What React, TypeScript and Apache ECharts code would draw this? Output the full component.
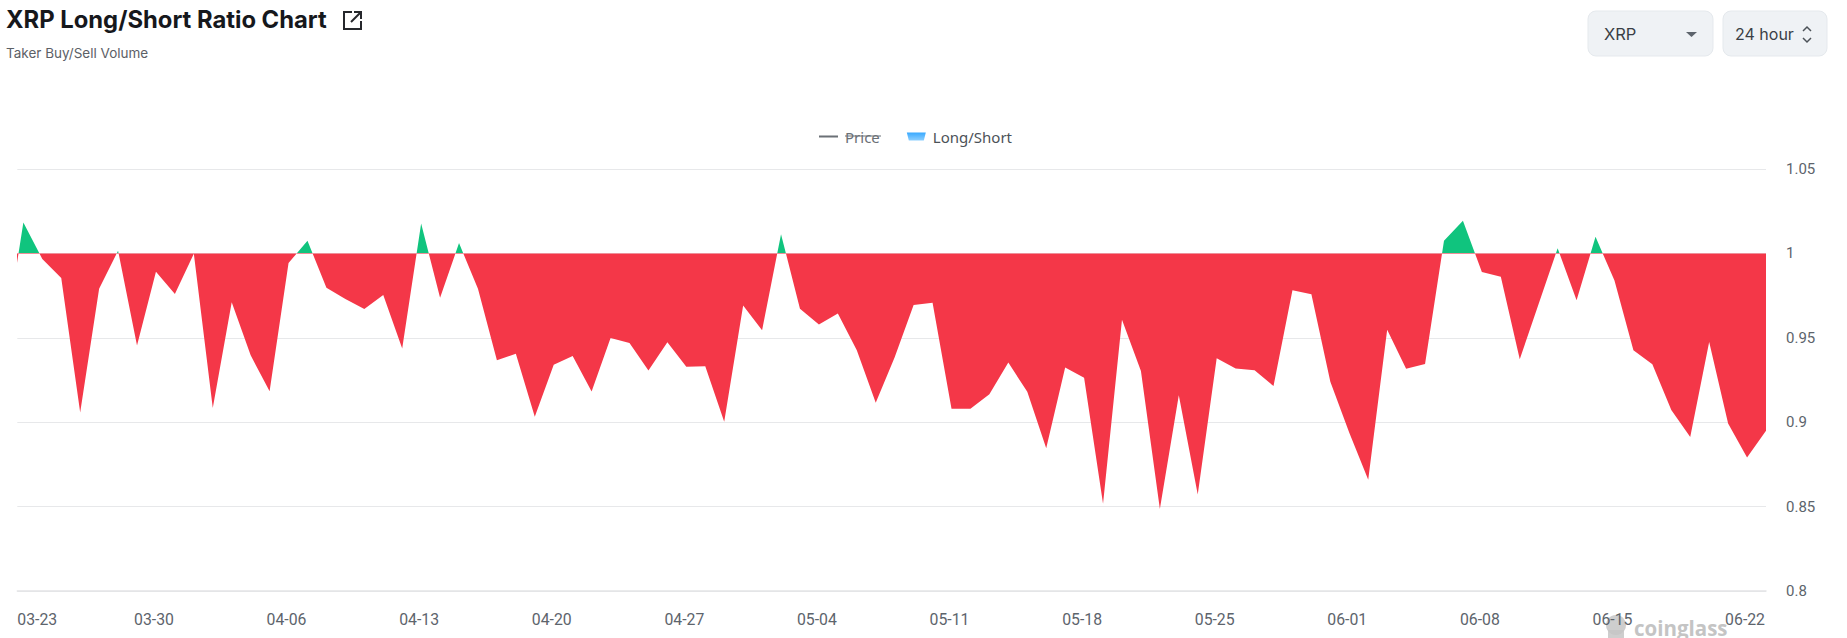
import React, { useEffect, useRef } from "react";
import * as echarts from "echarts";

// Daily long/short ratio, first entry is 03-22 (just outside the visible window), last is 06-23
const ratios = [
  0.9467, 1.0183, 0.9967, 0.9855, 0.9058, 0.979, 1.0016, 0.9455, 0.9892, 0.976, 0.9998,
  0.9084, 0.9711, 0.9396, 0.9184, 0.9943, 1.0075, 0.9796, 0.973, 0.967, 0.9754,
  0.9436, 1.0177, 0.9737, 1.0061, 0.979, 0.9367, 0.9406, 0.9033, 0.9341, 0.9392,
  0.9182, 0.9499, 0.9469, 0.9306, 0.9473, 0.9328, 0.9332, 0.9003, 0.9691, 0.9544,
  1.0114, 0.9672, 0.9579, 0.9644, 0.9426, 0.9115, 0.9385, 0.9695, 0.9707, 0.908,
  0.908, 0.9166, 0.9353, 0.918, 0.8846, 0.9324, 0.9263, 0.8517, 0.9607, 0.9304,
  0.8486, 0.916, 0.8571, 0.9379, 0.9318, 0.9308, 0.9214, 0.9782, 0.9758, 0.9239,
  0.8938, 0.8659, 0.9548, 0.9316, 0.9345, 1.0075, 1.0193, 0.989, 0.9862, 0.9373,
  0.9701, 1.003, 0.9723, 1.0098, 0.9839, 0.9426, 0.9343, 0.9072, 0.8913, 0.9475,
  0.8993, 0.8791, 0.895,
];
const tickLabels = ["03-23", "03-30", "04-06", "04-13", "04-20", "04-27", "05-04", "05-11", "05-18", "05-25", "06-01", "06-08", "06-15", "06-22"];
const tickDays = [-0.32, 7, 14, 21, 28, 35, 42, 49, 56, 63, 70, 77, 84, 91];
const seriesNames = ["Price", "Long/Short"];
const title = "XRP Long/Short Ratio Chart";
const subtitle = "Taker Buy/Sell Volume";

const RED = "#f43748";
const GREEN = "#10c47e";
const AXIS_TEXT = "#5d646c";
const GRID = "#e7e8ea";
const LABEL_FONT = "Roboto";

function chip(x: number, w: number) {
  return {
    type: "rect",
    shape: { x, y: 11, width: w, height: 45, r: 8 },
    style: { fill: "#eff2f5", stroke: "#e5e9ed", lineWidth: 1 },
    silent: true,
  };
}

export default function App() {
  const ref = useRef<HTMLDivElement>(null);
  useEffect(() => {
    const chart = echarts.init(ref.current!, undefined, { renderer: "svg" });
    chart.setOption({
      animation: false,
      backgroundColor: "#ffffff",
      title: {
        text: title,
        subtext: subtitle,
        left: 6,
        top: 4,
        padding: 0,
        itemGap: 10,
        textStyle: { fontFamily: "Inter", fontWeight: 700, fontSize: 23.8, color: "#16181c", lineHeight: 30 },
        subtextStyle: { fontFamily: "Inter", fontWeight: 400, fontSize: 13.5, color: "#5c6066", lineHeight: 18 },
      },
      legend: {
        left: 819,
        top: 129,
        padding: 0,
        itemWidth: 19,
        itemHeight: 8,
        itemGap: 27,
        inactiveColor: "#6b7076",
        selected: { Price: false },
        textStyle: { fontFamily: "Noto Sans", fontSize: 15, color: "#4c5258", padding: [0, 0, 0, 2] },
        data: [
          { name: seriesNames[0], icon: "path://M0 0H.01V.01H0Z M0 3H19V5H0Z M0 7.99H.01V8H0Z" },
          {
            name: seriesNames[1],
            icon: "path://M0 0H19L17 8H2Z",
            itemStyle: {
              color: new echarts.graphic.LinearGradient(0, 0, 0, 1, [
                { offset: 0, color: "#39a9ff" },
                { offset: 1, color: "#8ccfff" },
              ]),
            },
          },
        ],
      },
      grid: { left: 17.3, right: 81, top: 169, bottom: 47 },
      xAxis: {
        type: "value",
        min: -0.32,
        max: 92,
        splitLine: { show: false },
        axisTick: { show: false },
        axisLine: { show: true, onZero: false, lineStyle: { color: "#e3e4e6", width: 1.5 } },
        axisLabel: {
          customValues: tickDays,
          alignMinLabel: "left",
          margin: 20,
          padding: [0, 4, 0, 0],
          fontFamily: LABEL_FONT,
          fontSize: 15.8,
          color: AXIS_TEXT,
          formatter: (v: number) => tickLabels[tickDays.indexOf(v)] ?? "",
        },
      },
      yAxis: {
        type: "value",
        position: "right",
        min: 0.8,
        max: 1.05,
        interval: 0.05,
        axisLine: { show: false },
        axisTick: { show: false },
        splitLine: { show: true, lineStyle: { color: GRID, width: 1 } },
        axisLabel: { margin: 20, fontFamily: LABEL_FONT, fontSize: 15, color: AXIS_TEXT },
      },
      visualMap: {
        show: false,
        type: "piecewise",
        seriesIndex: 1,
        dimension: 1,
        pieces: [
          { min: 1, max: 2, color: GREEN },
          { min: 0, max: 1, color: RED },
        ],
      },
      series: [
        { name: seriesNames[0], type: "line", data: [[0, 1]], symbol: "none", itemStyle: { color: "#6b7076" } },
        {
          name: seriesNames[1],
          type: "line",
          clip: true,
          showSymbol: false,
          symbol: "none",
          data: ratios.map((v, i) => [i - 1, v]),
          lineStyle: { width: 0 },
          areaStyle: { origin: 1, opacity: 1 },
        },
      ],
      graphic: [
        // strike-through of the switched-off legend entry
        { type: "line", shape: { x1: 845, y1: 136, x2: 881, y2: 136 }, style: { stroke: "#6b7076", lineWidth: 1 }, silent: true },
        // open-in-new icon next to the title
        {
          type: "polyline",
          shape: { points: [[352, 12], [344, 12], [344, 29], [361, 29], [361, 21]] },
          style: { stroke: "#26282c", lineWidth: 2, fill: "none" },
          silent: true,
        },
        { type: "line", shape: { x1: 351, y1: 22, x2: 361, y2: 12 }, style: { stroke: "#26282c", lineWidth: 2 }, silent: true },
        {
          type: "polyline",
          shape: { points: [[354, 12], [361, 12], [361, 19]] },
          style: { stroke: "#26282c", lineWidth: 2, fill: "none" },
          silent: true,
        },
        // XRP selector
        chip(1588, 125),
        {
          type: "text",
          x: 1604,
          y: 34,
          style: { text: "XRP", fontFamily: "Inter", fontSize: 16.5, fill: "#3a3f46", verticalAlign: "middle" },
          silent: true,
        },
        { type: "polygon", shape: { points: [[1686, 32], [1697, 32], [1691.5, 37]] }, style: { fill: "#5d646c" }, silent: true },
        // interval selector
        chip(1723, 104),
        {
          type: "text",
          x: 1735,
          y: 34,
          style: { text: "24 hour", fontFamily: "Inter", fontSize: 16, fill: "#3a3f46", verticalAlign: "middle" },
          silent: true,
        },
        {
          type: "polyline",
          shape: { points: [[1803, 31], [1807, 27], [1811, 31]] },
          style: { stroke: "#4c5258", lineWidth: 1.5, fill: "none" },
          silent: true,
        },
        {
          type: "polyline",
          shape: { points: [[1803, 38], [1807, 42], [1811, 38]] },
          style: { stroke: "#4c5258", lineWidth: 1.5, fill: "none" },
          silent: true,
        },
        // watermark
        {
          type: "group",
          silent: true,
          z: 100,
          children: [
            { type: "circle", shape: { cx: 1616, cy: 625, r: 10 }, style: { fill: "#c6c6c6", opacity: 0.85 } },
            { type: "rect", shape: { x: 1608, y: 630, width: 16, height: 8 }, style: { fill: "#c6c6c6", opacity: 0.85 } },
            {
              type: "text",
              x: 1634,
              y: 628,
              style: { text: "coinglass", fontFamily: "Open Sans", fontWeight: 700, fontSize: 20.5, fill: "#c4c4c4", verticalAlign: "middle" },
            },
          ],
        },
      ],
    });
    return () => chart.dispose();
  }, []);
  return <div ref={ref} style={{ position: "absolute", left: 0, top: 0, width: 1847, height: 638 }} />;
}
